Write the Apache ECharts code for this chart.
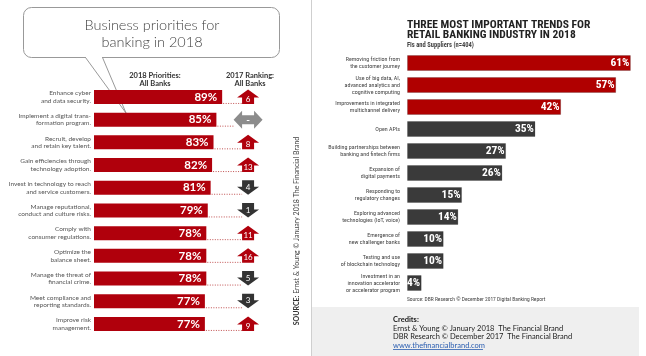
<!DOCTYPE html>
<html><head><meta charset="utf-8">
<script src="https://cdn.jsdelivr.net/npm/echarts@6/dist/echarts.min.js"></script>
<style>html,body{margin:0;padding:0;background:#fff}#c{width:646px;height:356px}</style>
</head><body><div id="c"></div>
<script>
// ---- Left chart data (Ernst & Young) ----
const priorityCategories = [
  "Enhance cyber\nand data security.",
  "Implement a digital trans-\nformation program.",
  "Recruit, develop\nand retain key talent.",
  "Gain efficiencies through\ntechnology adoption.",
  "Invest in technology to reach\nand service customers.",
  "Manage reputational,\nconduct and culture risks.",
  "Comply with\nconsumer regulations.",
  "Optimize the\nbalance sheet.",
  "Manage the threat of\nfinancial crime.",
  "Meet compliance and\nreporting standards.",
  "Improve risk\nmanagement."
];
const priorityValues = [89, 85, 83, 82, 81, 79, 78, 78, 78, 77, 77];
const ranking2017 = ["6", "-", "8", "13", "4", "1", "11", "16", "5", "3", "9"];
const rankingDirection = ["up", "new", "up", "up", "down", "down", "up", "up", "down", "down", "up"];

// ---- Right chart data (DBR) ----
const trendCategories = [
  "Removing friction from\nthe customer journey",
  "Use of big data, AI,\nadvanced analytics and\ncognitive computing",
  "Improvements in integrated\nmultichannel delivery",
  "Open APIs",
  "Building partnerships between\nbanking and fintech firms",
  "Expansion of\ndigital payments",
  "Responding to\nregulatory changes",
  "Exploring advanced\ntechnologies (IoT, voice)",
  "Emergence of\nnew challenger banks",
  "Testing and use\nof blockchain technology",
  "Investment in an\ninnovation accelerator\nor accelerator program"
];
const trendValues = [61, 57, 42, 35, 27, 26, 15, 14, 10, 10, 4];
const trendTopCount = 3;

const RED = '#b0000c';
const DARK = '#3a3a3a';
const HUM = "Lato, 'Open Sans', sans-serif";
const NARROW = "'Liberation Sans Narrow', 'Roboto Condensed', 'Roboto', sans-serif";
const ARROW_AT = 107; // axis units on left chart where ranking arrows sit

const chart = echarts.init(document.getElementById('c'), null, {renderer: 'canvas'});

function arrowItem(params, api) {
  const i = params.dataIndex;
  const end = api.coord([api.value(0), api.value(1)]);
  const a = api.coord([ARROW_AT, api.value(1)]);
  const cx = a[0], cy = a[1];
  const dir = rankingDirection[i];
  const children = [];
  const lineY = cy + 6.5;
  let stopX = cx - 6;
  if (dir === 'new') stopX = cx - 14;
  children.push({type: 'line', shape: {x1: end[0] + 1, y1: lineY, x2: stopX, y2: lineY},
    style: {stroke: '#c05050', lineWidth: 1, lineDash: [1, 1.5]}});
  let pts, fill, ty;
  if (dir === 'up') {
    pts = [[cx, cy - 7.5], [cx + 11, cy + 0.5], [cx + 6, cy + 0.5], [cx + 6, cy + 7], [cx - 6, cy + 7], [cx - 6, cy + 0.5], [cx - 11, cy + 0.5]];
    fill = RED; ty = cy + 2;
  } else if (dir === 'down') {
    pts = [[cx - 6, cy - 7.5], [cx + 6, cy - 7.5], [cx + 6, cy - 1], [cx + 11, cy - 1], [cx, cy + 7], [cx - 11, cy - 1], [cx - 6, cy - 1]];
    fill = '#333333'; ty = cy - 0.5;
  } else {
    pts = [[cx - 14.5, cy], [cx - 6, cy - 9], [cx - 6, cy - 4.5], [cx + 6, cy - 4.5], [cx + 6, cy - 9], [cx + 14.5, cy],
           [cx + 6, cy + 9], [cx + 6, cy + 4.5], [cx - 6, cy + 4.5], [cx - 6, cy + 9]];
    fill = '#8c8c8c'; ty = cy;
  }
  children.push({type: 'polygon', shape: {points: pts}, style: {fill: fill}});
  children.push({type: 'text', style: {text: ranking2017[i], x: cx, y: ty, align: 'center', verticalAlign: 'middle',
    fill: '#ffffff', font: (dir === 'new' ? 'bold 10px ' : '8px ') + HUM}});
  return {type: 'group', children: children};
}

const option = {
  animation: false,
  backgroundColor: '#ffffff',
  grid: [
    {left: 94, top: 85.6, width: 158.4, height: 249.7},
    {left: 407, top: 52, width: 234.9, height: 242}
  ],
  xAxis: [
    {gridIndex: 0, type: 'value', min: 0, max: 110, show: false},
    {gridIndex: 1, type: 'value', min: 0, max: 64, show: false}
  ],
  yAxis: [
    {gridIndex: 0, type: 'category', inverse: true, data: priorityCategories,
     axisLine: {show: false}, axisTick: {show: false}, splitLine: {show: false},
     axisLabel: {margin: 3, fontSize: 6.5, lineHeight: 7.5, color: '#555', fontFamily: HUM, align: 'right'}},
    {gridIndex: 1, type: 'category', inverse: true, data: trendCategories,
     axisLine: {show: false}, axisTick: {show: false}, splitLine: {show: false},
     axisLabel: {margin: 7, fontSize: 6, lineHeight: 7, color: '#444', fontFamily: NARROW, align: 'right'}}
  ],
  series: [
    {type: 'bar', xAxisIndex: 0, yAxisIndex: 0, data: priorityValues, barWidth: 14,
     itemStyle: {color: RED},
     label: {show: true, position: 'insideRight', distance: 5, formatter: '{c}%', color: '#fff',
             fontSize: 11.5, fontWeight: 'bold', fontFamily: HUM}},
    {type: 'custom', xAxisIndex: 0, yAxisIndex: 0, renderItem: arrowItem,
     data: priorityValues.map((v, i) => [v, i]), z: 3},
    {type: 'bar', xAxisIndex: 1, yAxisIndex: 1, barWidth: 16,
     data: trendValues.map((v, i) => ({value: v, itemStyle: {color: i < trendTopCount ? '#b00000' : DARK}})),
     itemStyle: {borderColor: 'rgba(0,0,0,0.18)', borderWidth: 1},
     label: {show: true, position: 'insideRight', distance: 1.5, formatter: '{c}%', color: '#fff',
             fontSize: 11.5, fontWeight: 'bold', fontFamily: NARROW}}
  ],
  graphic: [
    // divider
    {type: 'line', shape: {x1: 311.5, y1: 0, x2: 311.5, y2: 356}, style: {stroke: '#cfcfcf', lineWidth: 1}},
    // credits panel
    {type: 'rect', shape: {x: 312, y: 307, width: 327, height: 49}, style: {fill: '#efefef'}},
    // speech bubble
    {type: 'rect', shape: {x: 23.5, y: 7.5, width: 256, height: 50, r: 8}, style: {fill: '#fff', stroke: '#999', lineWidth: 1}},
    {type: 'rect', shape: {x: 86, y: 56, width: 16, height: 3}, style: {fill: '#fff'}},
    {type: 'polyline', shape: {points: [[85.5, 57.5], [126, 113], [102.5, 57.5]]}, style: {stroke: '#999', lineWidth: 1, fill: null}},
    {type: 'text', style: {text: 'Business priorities for', x: 152, y: 25, align: 'center', verticalAlign: 'middle',
      fill: '#444', font: '300 14.5px ' + HUM}},
    {type: 'text', style: {text: 'banking in 2018', x: 152, y: 42.5, align: 'center', verticalAlign: 'middle',
      fill: '#444', font: '300 14.5px ' + HUM}},
    // column headers
    {type: 'text', style: {text: '2018 Priorities:\nAll Banks', x: 155, y: 79.5, align: 'center', verticalAlign: 'middle',
      fill: '#333', font: 'bold 7.5px ' + HUM, lineHeight: 8.5}},
    {type: 'text', style: {text: '2017 Ranking:\nAll Banks', x: 250, y: 79.5, align: 'center', verticalAlign: 'middle',
      fill: '#333', font: 'bold 7.5px ' + HUM, lineHeight: 8.5}},
    // vertical source
    {type: 'text', x: 297, y: 231, rotation: Math.PI / 2,
     style: {text: '{b|SOURCE:} Ernst & Young © January 2018 The Financial Brand', align: 'center', verticalAlign: 'middle',
      fill: '#444', fontSize: 7, fontFamily: HUM, rich: {b: {fontWeight: 'bold', fontSize: 7, fontFamily: HUM, fill: '#333'}}}},
    // right titles
    {type: 'text', style: {text: 'THREE MOST IMPORTANT TRENDS FOR\nRETAIL BANKING INDUSTRY IN 2018', x: 407, y: 30,
      align: 'left', verticalAlign: 'middle', fill: '#222', font: 'bold 11.5px ' + NARROW, lineHeight: 10.5}},
    {type: 'text', style: {text: 'FIs and Suppliers (n=404)', x: 407, y: 45.5, align: 'left', verticalAlign: 'middle',
      fill: '#444', font: 'bold 6.5px ' + NARROW}},
    {type: 'text', style: {text: 'Source: DBR Research © December 2017 Digital Banking Report', x: 407, y: 300,
      align: 'left', verticalAlign: 'middle', fill: '#444', font: '5.5px ' + NARROW}},
    // credits
    {type: 'text', style: {text: 'Credits:', x: 393, y: 320, align: 'left', verticalAlign: 'middle', fill: '#222',
      font: 'bold 7.5px ' + HUM}},
    {type: 'text', style: {text: 'Ernst & Young © January 2018  The Financial Brand', x: 393, y: 328.5, align: 'left',
      verticalAlign: 'middle', fill: '#222', font: '7.5px ' + HUM}},
    {type: 'text', style: {text: 'DBR Research © December 2017  The Financial Brand', x: 393, y: 337, align: 'left',
      verticalAlign: 'middle', fill: '#222', font: '7.5px ' + HUM}},
    {type: 'text', style: {text: 'www.thefinancialbrand.com', x: 393, y: 345.5, align: 'left', verticalAlign: 'middle',
      fill: '#2a5db0', font: '7.5px ' + HUM}},
    {type: 'line', shape: {x1: 393, y1: 349.5, x2: 483, y2: 349.5}, style: {stroke: '#2a5db0', lineWidth: 0.8}}
  ]
};
chart.setOption(option);
</script>
</body></html>
